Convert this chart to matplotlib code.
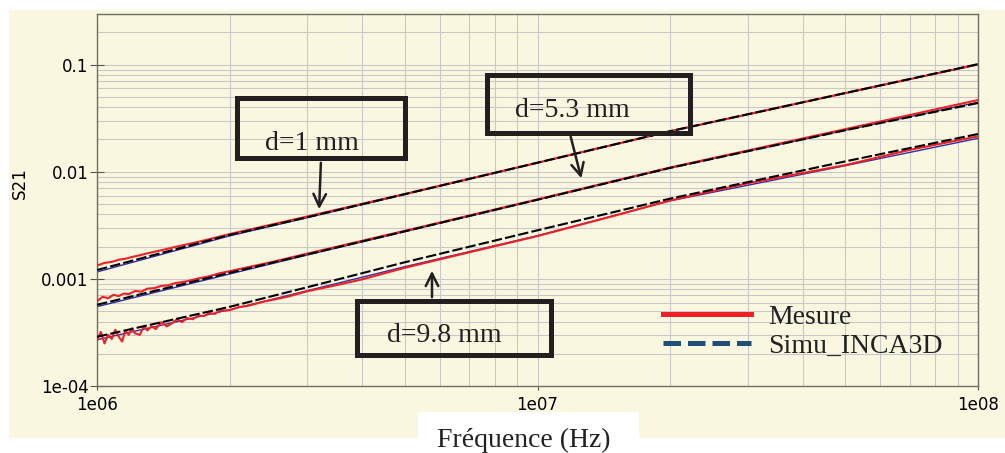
import numpy as np
import matplotlib.pyplot as plt
from matplotlib.patches import Rectangle
from matplotlib.lines import Line2D
from matplotlib.ticker import FixedLocator, FixedFormatter, NullFormatter, LogLocator

# Simulation curves (INCA3D), black dashed
freq_sim = [1e6, 2e6, 3e6, 5e6, 1e7, 2e7, 5e7, 1e8]
sim_d1 = [0.00121, 0.00257, 0.00376, 0.00618, 0.01214, 0.0239, 0.0543, 0.101]
sim_d53 = [0.000573, 0.00114, 0.00169, 0.00278, 0.00548, 0.01086, 0.0244, 0.0438]
sim_d98 = [0.000288, 0.000548, 0.000835, 0.00143, 0.00284, 0.00561, 0.0125, 0.0225]

# thin navy curves underneath
blue_d1 = [0.00116, 0.00252, 0.00372, 0.00615, 0.01210, 0.0238, 0.0541, 0.100]
blue_d53 = [0.000550, 0.00111, 0.00167, 0.00276, 0.00546, 0.01083, 0.0244, 0.0445]
blue_d98 = [0.000270, 0.000515, 0.000775, 0.00130, 0.00253, 0.00535, 0.0114, 0.0205]

# Measurements (red), frequencies in MHz
f_mes_d1 = [1.00, 1.04, 1.08, 1.12, 1.16, 1.20, 1.25, 1.30, 1.40, 1.50, 1.60, 1.70,
            1.80, 2.0, 3.0, 5.0, 10, 20, 50, 100]
mes_d1 = [0.00133, 0.00141, 0.00144, 0.00151, 0.00154, 0.00160, 0.00166, 0.00173,
          0.00185, 0.00198, 0.00210, 0.00222, 0.00235, 0.00262, 0.00382, 0.00620,
          0.01214, 0.0239, 0.0543, 0.1005]

f_mes_d53 = [1.00, 1.03, 1.06, 1.09, 1.12, 1.15, 1.18, 1.22, 1.26, 1.30, 1.35, 1.40,
             1.45, 1.50, 1.60, 1.70, 1.80, 1.90, 2.0, 2.5, 3.0, 5.0, 10, 20, 50, 100]
mes_d53 = [0.00062, 0.00068, 0.00066, 0.00071, 0.00069, 0.00073, 0.00072, 0.00077,
           0.00076, 0.00081, 0.00082, 0.00086, 0.00087, 0.00091, 0.00095, 0.00101,
           0.00106, 0.00113, 0.00118, 0.00144, 0.00172, 0.00281, 0.00552, 0.01095,
           0.0250, 0.0467]

f_mes_d98 = [1.00, 1.02, 1.04, 1.06, 1.08, 1.10, 1.12, 1.14, 1.16, 1.18, 1.20, 1.22,
             1.25, 1.28, 1.30, 1.33, 1.36, 1.40, 1.44, 1.48, 1.52, 1.56, 1.60, 1.65,
             1.70, 1.75, 1.80, 1.85, 1.90, 2.0, 2.1, 2.2, 2.4, 2.7, 3.0, 3.5, 4.0,
             5.0, 7.0, 10, 15, 20, 30, 50, 70, 100]
mes_d98 = [0.000265, 0.000320, 0.000250, 0.000300, 0.000275, 0.000335, 0.000290,
           0.000260, 0.000330, 0.000300, 0.000345, 0.000310, 0.000300, 0.000365,
           0.000330, 0.000360, 0.000340, 0.000395, 0.000360, 0.000385, 0.000420,
           0.000395, 0.000430, 0.000420, 0.000455, 0.000450, 0.000480, 0.000470,
           0.000505, 0.000510, 0.000545, 0.000560, 0.000615, 0.000680, 0.000766,
           0.000875, 0.00099, 0.00127, 0.00177, 0.00251, 0.0039, 0.00539, 0.0078,
           0.01153, 0.0160, 0.0214]

x_ticks = [1e6, 1e7, 1e8]
x_labels = ['1e06', '1e07', '1e08']
y_ticks = [1e-4, 1e-3, 1e-2, 1e-1]
y_labels = ['1e-04', '0.001', '0.01', '0.1']

W, H = 1005, 453
cream = '#FAF7E1'
box_col = '#231F20'
serif = 'Liberation Serif'


def px(x, y):
    # pixel position (from top left) -> figure fraction
    return x / W, 1 - y / H


fig = plt.figure(figsize=(W / 100, H / 100), dpi=100)
fig.patch.set_facecolor('white')

# cream background panel and white box under the x label
fig.add_artist(Rectangle(px(9, 438), (W - 9) / W, 428 / H, transform=fig.transFigure,
                         facecolor=cream, edgecolor='none', zorder=0))
fig.add_artist(Rectangle(px(418, 453), 221 / W, 41 / H, transform=fig.transFigure,
                         facecolor='white', edgecolor='none', zorder=0))

ax = fig.add_axes([97 / W, 1 - 386 / H, 881 / W, 372.5 / H])
ax.set_facecolor(cream)
ax.set_xscale('log')
ax.set_yscale('log')
ax.set_xlim(1e6, 1e8)
ax.set_ylim(1e-4, 0.3)

# curves
for b in (blue_d1, blue_d53, blue_d98):
    ax.plot(freq_sim, b, color='#3030A0', lw=1.0, zorder=2)
for f, m in ((f_mes_d1, mes_d1), (f_mes_d53, mes_d53), (f_mes_d98, mes_d98)):
    ax.plot(np.array(f) * 1e6, m, color='#EE2027', lw=1.5, zorder=3)
for s in (sim_d1, sim_d53, sim_d98):
    ax.plot(freq_sim, s, color='black', lw=1.5, dashes=(5, 1.5), zorder=4)

# ticks and grid
ax.xaxis.set_major_locator(FixedLocator(x_ticks))
ax.xaxis.set_major_formatter(FixedFormatter(x_labels))
ax.yaxis.set_major_locator(FixedLocator(y_ticks))
ax.yaxis.set_major_formatter(FixedFormatter(y_labels))
ax.xaxis.set_minor_locator(LogLocator(base=10, subs=np.arange(2, 10)))
ax.yaxis.set_minor_locator(LogLocator(base=10, subs=np.arange(2, 10)))
ax.xaxis.set_minor_formatter(NullFormatter())
ax.yaxis.set_minor_formatter(NullFormatter())
ax.grid(True, which='both', color='#C8C8C8', lw=0.8, zorder=1)
ax.set_axisbelow(True)
ax.tick_params(axis='y', which='major', direction='inout', length=10, width=0.8,
               color='#555550', labelsize=12, pad=1)
ax.tick_params(axis='x', which='major', direction='out', length=3, width=0.8,
               color='#555550', labelsize=12, pad=4)
ax.tick_params(which='minor', length=0)
for sp in ax.spines.values():
    sp.set_color('#6E6E64')
    sp.set_linewidth(1.0)

fig.text(*px(20, 183), 'S21', rotation=90, ha='center', va='center', fontsize=12)
fig.text(*px(524, 440), 'Fréquence (Hz)', ha='center', va='center',
         fontsize=20, family=serif, color='#222222')

# annotation boxes with arrows
boxes = [
    ((237, 98, 405, 158), 'd=1 mm', (312, 150)),
    ((487, 75, 690, 133), 'd=5.3 mm', (572, 117)),
    ((357, 301, 551, 355), 'd=9.8 mm', (444, 342)),
]
for (x0, y0, x1, y1), label, (tx, ty) in boxes:
    fig.add_artist(Rectangle(px(x0, y1), (x1 - x0) / W, (y1 - y0) / H,
                             transform=fig.transFigure, facecolor='none',
                             edgecolor=box_col, lw=3.6, zorder=6))
    fig.text(*px(tx, ty), label, ha='center', va='baseline', fontsize=20,
             family=serif, color=box_col, zorder=7)

arrows = [((321, 160), (319, 212)), ((570, 134), (582, 181)), ((432, 300), (432, 268))]
for start, tip in arrows:
    ax.annotate('', xy=px(*tip), xycoords='figure fraction',
                xytext=px(*start), textcoords='figure fraction',
                arrowprops=dict(arrowstyle='->,head_length=0.9,head_width=0.45',
                                color=box_col, lw=1.8), zorder=7)

# legend drawn by hand
fig.add_artist(Line2D([663 / W, 751 / W], [1 - 314 / H] * 2, transform=fig.transFigure,
                      color='#EE2027', lw=3.6, zorder=6))
fig.add_artist(Line2D([663 / W, 751 / W], [1 - 343 / H] * 2, transform=fig.transFigure,
                      color='#1F4E79', lw=3.6, dashes=(3.5, 1.4), zorder=6))
fig.text(*px(768, 318), 'Mesure', ha='left', va='center', fontsize=20,
         family=serif, color='#222222')
fig.text(*px(768, 346), 'Simu_INCA3D', ha='left', va='center', fontsize=20,
         family=serif, color='#222222')

plt.savefig('out.png', dpi=100, facecolor=fig.get_facecolor())
